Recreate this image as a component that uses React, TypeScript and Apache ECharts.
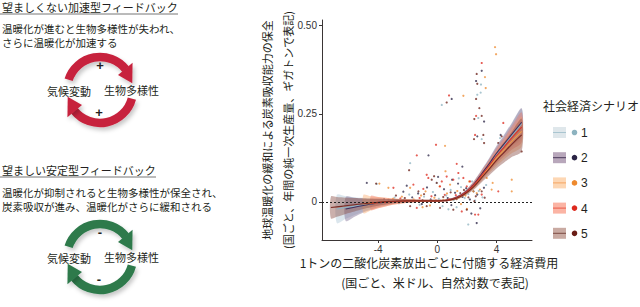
import React, { useEffect, useRef } from "react";
import * as echarts from "echarts";

// ---------- data ----------
const xGrid = [-7.2, -6.8, -6.2, -5.6, -5.0, -4.5, -4.0, -3.0, -2.0, -1.0, 0, 0.5, 1.0, 1.5, 2.0, 2.5, 3.0, 3.5, 4.0, 4.5, 5.0, 5.7];

const fit1 = [null, -0.02, -0.016, -0.012, -0.008, -0.005, -0.003, 0.001, 0.003, 0.003, 0.003, 0.004, 0.008, 0.016, 0.030, 0.050, 0.077, 0.105, 0.134, 0.160, 0.186, 0.222];
const fit2 = [null, null, -0.02, -0.015, -0.01, -0.006, -0.003, 0.001, 0.003, 0.003, 0.003, 0.004, 0.008, 0.017, 0.031, 0.052, 0.080, 0.108, 0.138, 0.164, 0.190, 0.226];
const fit3 = [null, null, null, null, -0.006, -0.004, -0.002, 0.001, 0.003, 0.003, 0.003, 0.004, 0.007, 0.014, 0.028, 0.047, 0.072, 0.098, 0.124, 0.147, 0.170, 0.200];
const fit4 = [null, null, null, null, null, -0.003, -0.002, 0.001, 0.003, 0.003, 0.003, 0.004, 0.008, 0.016, 0.030, 0.050, 0.076, 0.103, 0.131, 0.155, 0.180, 0.212];
const fit5 = [-0.016, -0.014, -0.011, -0.008, -0.005, -0.003, -0.001, 0.002, 0.003, 0.003, 0.003, 0.004, 0.007, 0.014, 0.027, 0.045, 0.069, 0.093, 0.118, 0.140, 0.162, 0.190];

const hw1 = [null, 0.04, 0.032, 0.025, 0.019, 0.015, 0.012, 0.007, 0.004, 0.003, 0.003, 0.003, 0.003, 0.004, 0.006, 0.009, 0.013, 0.017, 0.022, 0.027, 0.033, 0.042];
const hw2 = [null, null, 0.034, 0.027, 0.02, 0.016, 0.012, 0.007, 0.004, 0.003, 0.003, 0.003, 0.003, 0.004, 0.006, 0.009, 0.012, 0.016, 0.021, 0.026, 0.032, 0.040];
const hw3 = [null, null, null, null, 0.026, 0.02, 0.016, 0.009, 0.005, 0.003, 0.003, 0.003, 0.003, 0.004, 0.006, 0.009, 0.013, 0.017, 0.022, 0.027, 0.033, 0.042];
const hw4 = [null, null, null, null, null, 0.02, 0.016, 0.009, 0.005, 0.003, 0.003, 0.003, 0.003, 0.004, 0.006, 0.009, 0.013, 0.017, 0.022, 0.027, 0.033, 0.042];
const hw5 = [0.031, 0.028, 0.023, 0.019, 0.015, 0.012, 0.01, 0.006, 0.004, 0.003, 0.003, 0.003, 0.003, 0.004, 0.006, 0.009, 0.013, 0.018, 0.023, 0.029, 0.035, 0.046];

const pts1 = [
  [2.95, 0.333], [2.93, 0.31], [2.7, 0.304], [0.3, 0.275], [2.77, 0.238], [3.0, 0.178], [4.24, 0.181], [-1.84, 0.11], [2.09, -0.064],
  [-4.1, 0.051], [-2.9, 0.012], [-2.3, 0.006], [-1.9, 0.021], [-1.5, 0.004], [-1.2, -0.008], [-0.9, 0.015], [-0.6, 0.002], [-0.3, 0.028],
  [0.1, 0.009], [0.35, -0.012], [0.6, 0.018], [0.9, 0.034], [1.1, 0.005], [1.3, -0.015], [1.6, 0.042], [1.85, 0.011], [2.1, 0.022],
  [2.35, 0.058], [2.55, 0.004], [2.8, 0.031], [3.05, 0.013], [3.3, 0.048], [-0.05, 0.054], [-2.6, -0.004], [1.45, 0.067], [0.75, -0.021],
];
const pts2 = [
  [3.0, 0.372], [2.62, 0.343], [0.97, 0.292], [3.16, 0.228], [2.7, 0.186], [-0.6, 0.132], [4.28, 0.19], [1.69, 0.10], [2.66, -0.06],
  [-4.77, 0.054], [-3.6, 0.008], [-2.7, 0.003], [-2.07, 0.046], [-1.7, 0.013], [-1.3, 0.024], [-1.05, -0.006], [-0.7, 0.041], [-0.45, 0.007],
  [-0.15, 0.019], [0.2, 0.003], [0.45, 0.036], [0.7, 0.011], [0.95, -0.009], [1.2, 0.026], [1.4, 0.052], [1.7, 0.014], [1.95, 0.039],
  [2.2, 0.007], [2.45, 0.03], [2.7, 0.021], [2.9, -0.018], [3.15, 0.04], [-2.3, 0.029], [0.05, 0.071], [1.0, 0.063], [2.3, -0.033],
];
const pts3 = [
  [3.9, 0.439], [3.97, 0.419], [3.22, 0.354], [3.27, 0.323], [1.76, 0.301], [0.52, 0.159], [5.03, 0.063], [5.03, 0.03], [3.74, 0.054],
  [-3.92, 0.052], [-3.31, 0.04], [-3.0, 0.009], [-2.4, 0.015], [-1.84, 0.04], [-1.6, 0.007], [-1.1, 0.018], [-0.8, 0.03], [-0.5, -0.01],
  [-0.2, 0.012], [0.15, 0.044], [0.4, 0.006], [0.65, 0.024], [0.86, 0.049], [1.15, 0.01], [1.35, 0.031], [1.6, -0.006], [1.9, 0.018],
  [2.15, 0.058], [2.43, 0.03], [2.66, 0.025], [2.88, 0.035], [3.34, 0.068], [3.67, 0.035], [-1.0, -0.015], [0.55, 0.087], [2.0, -0.02],
];
const pts4 = [
  [3.0, 0.394], [0.79, 0.302], [-0.09, 0.162], [2.62, 0.244], [2.55, 0.19], [4.46, 0.224], [1.31, 0.108], [-1.39, 0.132],
  [-2.97, 0.04], [-2.5, 0.01], [-2.0, 0.002], [-1.62, 0.049], [-1.39, -0.017], [-1.2, 0.011], [-0.95, 0.037], [-0.72, 0.077], [-0.61, 0.068],
  [-0.4, 0.016], [-0.1, 0.004], [0.18, 0.044], [0.3, 0.058], [0.5, 0.02], [0.63, 0.072], [0.8, 0.008], [1.08, 0.063], [1.25, 0.019],
  [1.42, 0.082], [1.65, -0.027], [1.76, 0.068], [1.99, 0.044], [2.21, 0.058], [2.55, -0.036], [2.77, -0.036], [3.0, 0.021], [4.12, 0.03],
];
const pts5 = [
  [2.66, 0.363], [2.7, 0.335], [2.62, 0.292], [2.84, 0.266], [3.0, 0.244], [2.5, 0.235], [2.48, 0.178], [3.11, 0.19], [3.16, 0.167],
  [0.63, 0.282], [5.7, 0.143], [4.35, 0.186], [4.12, 0.167], [-1.91, 0.09],
  [-4.14, 0.052], [-3.3, 0.006], [-2.8, 0.018], [-2.2, 0.011], [-1.84, -0.012], [-1.28, 0.03], [-1.0, 0.005], [-0.72, -0.012], [-0.38, 0.063],
  [-0.22, 0.073], [-0.04, 0.054], [0.18, -0.017], [0.4, 0.014], [0.62, 0.003], [0.9, 0.027], [1.08, -0.022], [1.3, 0.008], [1.55, 0.025],
  [1.8, 0.034], [1.99, -0.022], [2.1, 0.013], [2.35, 0.045], [2.5, 0.002], [2.6, 0.016], [3.0, 0.03], [3.2, 0.012], [-0.9, 0.022],
];

const scenarioNames = ["1", "2", "3", "4", "5"];
const xTicks = [-4, 0, 4];
const yTicks = [0, 0.25, 0.5];

// ---------- styles ----------
const dotColors = ["#8db3c0", "#2b2445", "#ee8a2e", "#dd2a1f", "#6a1d16"];
const lineColors = ["#8fb3c4", "#3e3160", "#f29a45", "#d9342a", "#7a2a22"];
const bandColors = [
  "rgba(175,200,215,0.45)",
  "rgba(120,100,140,0.42)",
  "rgba(250,175,115,0.45)",
  "rgba(240,115,95,0.40)",
  "rgba(140,80,72,0.45)",
];
const swatchFill = ["#dfe7eb", "#b8a7bb", "#fdd7b4", "#fbb4a4", "#c9aaa2"];
const swatchLine = ["#a9c5d0", "#4a3b5c", "#f5a562", "#ea5a48", "#7d4c44"];

const CJK = "'Noto Sans CJK JP', sans-serif";
const TXT = "#231f20";

function rad(d: number) {
  return (d * Math.PI) / 180;
}

function arrowPair(cx: number, cy: number, color: string, signs: [string, string]) {
  const r = 33;
  const out: any[] = [];
  const segs = [
    [198, 320, 348],
    [15, 140, 168],
  ];
  const shadow = { shadowBlur: 4, shadowColor: "rgba(0,0,0,0.22)", shadowOffsetX: 2, shadowOffsetY: 3 };
  for (const [a0, a1, tip] of segs) {
    out.push({
      type: "arc",
      shape: { cx, cy, r, startAngle: rad(a0), endAngle: rad(a1 + 1), clockwise: true },
      style: { stroke: color, lineWidth: 8.5, fill: "none", ...shadow },
      z: 10,
    });
    const p = (a: number, rr: number) => [cx + rr * Math.cos(rad(a)), cy + rr * Math.sin(rad(a))];
    out.push({
      type: "polygon",
      shape: { points: [p(a1, r - 9.5), p(a1, r + 9.5), p(tip, r)] },
      style: { fill: color, ...shadow },
      z: 10,
    });
  }
  out.push({
    type: "text", x: cx, y: cy - 25, z: 12,
    style: { text: signs[0], font: "bold 13px 'Liberation Sans', sans-serif", fill: TXT, align: "center", verticalAlign: "middle", textAlign: "center", textVerticalAlign: "middle" },
  });
  out.push({
    type: "text", x: cx - 1, y: cy + 22, z: 12,
    style: { text: signs[1], font: "bold 13px 'Liberation Sans', sans-serif", fill: TXT, align: "center", verticalAlign: "middle", textAlign: "center", textVerticalAlign: "middle" },
  });
  out.push({
    type: "text", x: 47, y: cy + 1, z: 12,
    style: { text: "気候変動", font: `11px ${CJK}`, fill: TXT, align: "left", verticalAlign: "middle", textAlign: "left", textVerticalAlign: "middle" },
  });
  out.push({
    type: "text", x: 104, y: cy, z: 12,
    style: { text: "生物多様性", font: `11px ${CJK}`, fill: TXT, align: "left", verticalAlign: "middle", textAlign: "left", textVerticalAlign: "middle" },
  });
  return out;
}

function txt(x: number, y: number, text: string, size: number, align = "left") {
  return {
    type: "text",
    x,
    y,
    style: {
      text,
      font: `${size}px ${CJK}`,
      fill: TXT,
      align,
      verticalAlign: "middle",
      textAlign: align,
      textVerticalAlign: "middle",
    },
  };
}

export default function App() {
  const ref = useRef<HTMLDivElement>(null);
  useEffect(() => {
    document.body.style.margin = "0";
    const chart = echarts.init(ref.current!, null, { renderer: "svg" });
    const fits = [fit1, fit2, fit3, fit4, fit5];
    const hws = [hw1, hw2, hw3, hw4, hw5];
    const pts = [pts1, pts2, pts3, pts4, pts5];

    const scatterSeries = pts.map((p, i) => ({
      type: "scatter",
      name: scenarioNames[i],
      data: p,
      symbolSize: 2.2,
      itemStyle: { color: dotColors[i], opacity: 0.75 },
      silent: true,
      z: 2,
      ...(i === 0
        ? {
            markLine: {
              silent: true,
              symbol: "none",
              label: { show: false },
              lineStyle: { color: "#222", type: [2, 2], width: 1 },
              data: [{ yAxis: 0 }],
            },
          }
        : {}),
    }));

    const bandSeries = fits.map((f, i) => ({
      type: "custom",
      name: "band" + scenarioNames[i],
      data: [[0, 0]],
      silent: true,
      z: 3,
      renderItem: (_params: any, api: any) => {
        const upper: number[][] = [];
        const lower: number[][] = [];
        xGrid.forEach((x, k) => {
          const v = f[k];
          const h = hws[i][k];
          if (v == null || h == null) return;
          upper.push(api.coord([x, v + h]));
          lower.push(api.coord([x, v - h]));
        });
        return {
          type: "polygon",
          shape: { points: upper.concat(lower.reverse()), smooth: 0.3 },
          style: { fill: bandColors[i] },
        };
      },
    }));

    const lineSeries = fits.map((f, i) => ({
      type: "line",
      name: "fit" + scenarioNames[i],
      data: xGrid.map((x, k) => [x, f[k]]).filter((d) => d[1] != null),
      smooth: true,
      showSymbol: false,
      symbol: "none",
      silent: true,
      z: 4,
      lineStyle: { color: lineColors[i], width: 1.1 },
    }));

    const graphics: any[] = [];
    // left panel
    graphics.push(txt(2, 7, "望ましくない加速型フィードバック", 11));
    graphics.push({ type: "line", shape: { x1: 0, y1: 14, x2: 178, y2: 14 }, style: { stroke: "#777", lineWidth: 1 } });
    graphics.push(txt(2, 28, "温暖化が進むと生物多様性が失われ、", 10.5));
    graphics.push(txt(2, 42, "さらに温暖化が加速する", 10.5));
    graphics.push(...arrowPair(100, 90, "#c7243e", ["+", "+"]));

    graphics.push(txt(2, 170, "望ましい安定型フィードバック", 11));
    graphics.push({ type: "line", shape: { x1: 0, y1: 177, x2: 156, y2: 177 }, style: { stroke: "#777", lineWidth: 1 } });
    graphics.push(txt(2, 192, "温暖化が抑制されると生物多様性が保全され、", 10.5));
    graphics.push(txt(2, 206, "炭素吸収が進み、温暖化がさらに緩和される", 10.5));
    graphics.push(...arrowPair(100, 257, "#2e7a4c", ["-", "-"]));

    // axis titles
    graphics.push({
      type: "text",
      x: 277.5,
      y: 130,
      rotation: Math.PI / 2,
      style: {
        text: "地球温暖化の緩和による炭素吸収能力の保全\n(国ごと、年間の純一次生産量、ギガトンで表記)",
        font: `11px ${CJK}`,
        fill: TXT,
        lineHeight: 21,
        align: "center",
        verticalAlign: "middle",
        textAlign: "center",
        textVerticalAlign: "middle",
      },
    });
    graphics.push(txt(429, 262, "1トンの二酸化炭素放出ごとに付随する経済費用", 12, "center"));
    graphics.push(txt(435, 282, "(国ごと、米ドル、自然対数で表記)", 12, "center"));

    // legend
    graphics.push(txt(543, 105, "社会経済シナリオ", 12));
    scenarioNames.forEach((n, i) => {
      const cy = 132.5 + i * 25.2;
      graphics.push({ type: "rect", shape: { x: 553, y: cy - 5.5, width: 13, height: 11 }, style: { fill: swatchFill[i] } });
      graphics.push({ type: "line", shape: { x1: 553, y1: cy, x2: 566, y2: cy }, style: { stroke: swatchLine[i], lineWidth: 1 } });
      graphics.push({ type: "circle", shape: { cx: 574.5, cy, r: 2.8 }, style: { fill: dotColors[i] } });
      graphics.push({
        type: "text",
        x: 581,
        y: cy + 0.5,
        style: { text: n, font: "12px 'Liberation Sans', sans-serif", fill: TXT, align: "left", verticalAlign: "middle", textAlign: "left", textVerticalAlign: "middle" },
      });
    });

    const option: any = {
      animation: false,
      backgroundColor: "#ffffff",
      grid: { left: 322, top: 20, width: 210, height: 220, containLabel: false },
      xAxis: {
        type: "value",
        min: -7.8,
        max: 6.4,
        axisLine: { onZero: false, lineStyle: { color: "#3a3535", width: 1 } },
        axisTick: { show: true, length: 3, customValues: xTicks, lineStyle: { color: "#3a3535" } },
        axisLabel: { customValues: xTicks, margin: 4, fontSize: 10, color: "#333", fontFamily: "'Liberation Sans', sans-serif" },
        splitLine: { show: false },
      },
      yAxis: {
        type: "value",
        min: -0.108,
        max: 0.516,
        axisLine: { show: true, onZero: false, lineStyle: { color: "#3a3535", width: 1 } },
        axisTick: { show: true, length: 3, customValues: yTicks, lineStyle: { color: "#3a3535" } },
        axisLabel: {
          customValues: yTicks,
          margin: 5,
          fontSize: 10,
          color: "#333",
          fontFamily: "'Liberation Sans', sans-serif",
          formatter: (v: number) => (v === 0 ? "0" : v.toFixed(2)),
        },
        splitLine: { show: false },
      },
      series: [...scatterSeries, ...bandSeries, ...lineSeries],
      graphic: { elements: graphics },
    };
    chart.setOption(option);
    return () => chart.dispose();
  }, []);
  return <div ref={ref} style={{ width: 640, height: 307 }} />;
}
